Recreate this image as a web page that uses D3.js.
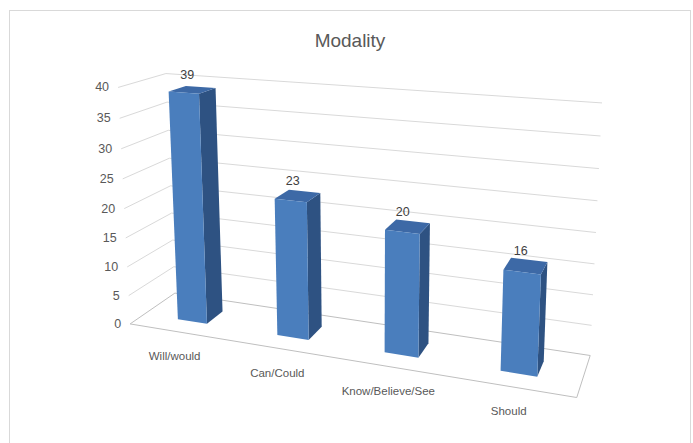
<!DOCTYPE html>
<html>
<head>
<meta charset="utf-8">
<script src="https://cdn.jsdelivr.net/npm/d3@7/dist/d3.min.js"></script>
<style>
  body { margin: 0; background: #fff; }
  svg text { font-family: "Liberation Sans Narrow", "Liberation Sans", Arial, sans-serif; }
</style>
</head>
<body>
<svg id="chart" width="693" height="443"></svg>
<script>
// datos del grafico
const title = "Modality";
const categories = ["Will/would", "Can/Could", "Know/Believe/See", "Should"];
const values = [39, 23, 20, 16];
const yTicks = [0, 5, 10, 15, 20, 25, 30, 35, 40];

const W = 693, H = 443;
const svg = d3.select("#chart");

// esquinas de la caja 3D en pantalla (x,y,z unitarios -> px), para ajustar la perspectiva
const frame = [
    [[0, 0, 0], [130, 323]],
    [[1, 0, 0], [577, 398]],
    [[0, 0, 1], [175, 294]],
    [[1, 0, 1], [590, 355]],
    [[0, 1, 1], [166, 73]],
    [[1, 1, 1], [602, 103]],
    [[0, 1, 0], [118, 88]]
];

function solve(M, r) {
    var n = r.length;
    var a = M.map((row, i) => row.concat([r[i]]));
    for (var c = 0; c < n; c++) {
        var p = c;
        for (var i = c + 1; i < n; i++) if (Math.abs(a[i][c]) > Math.abs(a[p][c])) p = i;
        var tmp = a[c]; a[c] = a[p]; a[p] = tmp;
        for (var i = 0; i < n; i++) {
            if (i === c) continue;
            var f = a[i][c] / a[c][c];
            for (var k = c; k <= n; k++) a[i][k] -= f * a[c][k];
        }
    }
    return a.map((row, i) => row[n] / row[i]);
}

// minimos cuadrados para la matriz de proyeccion 3x4
function fitProjection(pts) {
    var A = [], b = [];
    pts.forEach(function (d) {
        var X = d[0][0], Y = d[0][1], Z = d[0][2], u = d[1][0], v = d[1][1];
        A.push([X, Y, Z, 1, 0, 0, 0, 0, -u * X, -u * Y, -u * Z]); b.push(u);
        A.push([0, 0, 0, 0, X, Y, Z, 1, -v * X, -v * Y, -v * Z]); b.push(v);
    });
    var N = [], r = [];
    for (var i = 0; i < 11; i++) {
        N.push([]);
        r.push(d3.sum(A, (row, k) => row[i] * b[k]));
        for (var j = 0; j < 11; j++) N[i].push(d3.sum(A, row => row[i] * row[j]));
    }
    return solve(N, r);
}

const P = fitProjection(frame);
function project(X, Y, Z) {
    var w = P[8] * X + P[9] * Y + P[10] * Z + 1;
    return [(P[0] * X + P[1] * Y + P[2] * Z + P[3]) / w,
            (P[4] * X + P[5] * Y + P[6] * Z + P[7]) / w];
}
const line = d3.line();

// escalas
const x = d3.scaleBand().domain(categories).range([0, 1]).paddingInner(0.7).paddingOuter(0.35);
const y = d3.scaleLinear().domain([0, 40]).range([0, 1]);
const zFront = 0.31, zBack = 0.69;

// borde del area
svg.append("rect")
    .attr("x", 9.5).attr("y", 10.5)
    .attr("width", 681).attr("height", 450)
    .style("fill", "none").style("stroke", "#d9d9d9");

// titulo
svg.append("text")
    .attr("x", 350).attr("y", 47)
    .attr("text-anchor", "middle")
    .style("font-size", "19px")
    .style("fill", "#595959")
    .text(title);

// lineas de cuadricula (pared izquierda y fondo)
yTicks.filter(t => t > 0).forEach(function (t) {
    svg.append("path")
        .attr("d", line([project(0, y(t), 0), project(0, y(t), 1), project(1, y(t), 1)]))
        .style("fill", "none").style("stroke", "#d9d9d9").style("stroke-width", 1);
});

// suelo
svg.append("path")
    .attr("d", line([project(0, 0, 0), project(1, 0, 0), project(1, 0, 1), project(0, 0, 1)]) + "Z")
    .style("fill", "none").style("stroke", "#bfbfbf").style("stroke-width", 1);

// etiquetas eje y
yTicks.forEach(function (t) {
    var p = project(0, y(t), 0);
    svg.append("text")
        .attr("x", p[0] - 9).attr("y", p[1] + 4)
        .attr("text-anchor", "end")
        .style("font-size", "12.5px")
        .style("fill", "#595959")
        .text(t);
});

// barras
categories.forEach(function (c, i) {
    var x0 = x(c), x1 = x(c) + x.bandwidth(), h = y(values[i]);
    var side = [project(x1, 0, zFront), project(x1, 0, zBack), project(x1, h, zBack), project(x1, h, zFront)];
    var top = [project(x0, h, zFront), project(x1, h, zFront), project(x1, h, zBack), project(x0, h, zBack)];
    var front = [project(x0, 0, zFront), project(x1, 0, zFront), project(x1, h, zFront), project(x0, h, zFront)];

    svg.append("path").attr("d", line(side) + "Z").style("fill", "#2e5282");
    svg.append("path").attr("d", line(top) + "Z").style("fill", "#3d69a6");
    svg.append("path").attr("d", line(front) + "Z").style("fill", "#4a7ebd");

    var tc = project(x0 + x.bandwidth() / 2, h, (zFront + zBack) / 2);
    svg.append("text")
        .attr("x", tc[0] - 5).attr("y", tc[1] - 11)
        .attr("text-anchor", "middle")
        .style("font-size", "12.5px")
        .style("fill", "#404040")
        .text(values[i]);

    var lc = project(x0 + x.bandwidth() / 2, 0, 0);
    svg.append("text")
        .attr("x", lc[0] - 4).attr("y", lc[1] + 28)
        .attr("text-anchor", "middle")
        .style("font-size", "11.5px")
        .style("fill", "#595959")
        .text(c);
});
</script>
</body>
</html>
